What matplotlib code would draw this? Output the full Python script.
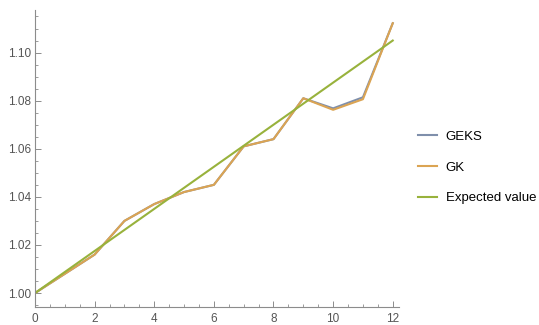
import matplotlib
matplotlib.use("Agg")
from matplotlib import pyplot as plt
from matplotlib.ticker import MultipleLocator, FormatStrFormatter

plt.rcParams['font.family'] = ['Liberation Sans', 'DejaVu Sans']

# values
periods = [0, 1, 2, 3, 4, 5, 6, 7, 8, 9, 10, 11, 12]
geks = [1.000, 1.008, 1.016, 1.030, 1.037, 1.042, 1.045, 1.061, 1.064, 1.081, 1.0768, 1.0814, 1.1122]
gk = [1.000, 1.008, 1.016, 1.030, 1.037, 1.042, 1.045, 1.061, 1.064, 1.081, 1.0762, 1.0806, 1.1122]
expected = [1.000, 1.00875, 1.0175, 1.02625, 1.035, 1.04375, 1.0525,
            1.06125, 1.070, 1.07875, 1.0875, 1.09625, 1.105]

fig = plt.figure(figsize=(5.39, 3.25), dpi=100)
ax = fig.add_axes([35 / 539, 18 / 325, 364 / 539, 297 / 325])

ax.plot(periods, geks, color='#7f8fab', lw=1.5, label='GEKS')
ax.plot(periods, gk, color='#dba453', lw=1.5, label='GK')
ax.plot(periods, expected, color='#98b23c', lw=1.5, label='Expected value')

ax.set_xlim(0, 12.21)
ax.set_ylim(0.9942, 1.1177)
ax.xaxis.set_major_locator(MultipleLocator(2))
ax.xaxis.set_minor_locator(MultipleLocator(0.5))
ax.yaxis.set_major_locator(MultipleLocator(0.02))
ax.yaxis.set_minor_locator(MultipleLocator(0.005))
ax.yaxis.set_major_formatter(FormatStrFormatter('%.2f'))

for side in ['top', 'right']:
    ax.spines[side].set_visible(False)
for side in ['left', 'bottom']:
    ax.spines[side].set_color('#8c8c8c')
    ax.spines[side].set_linewidth(0.8)
ax.tick_params(which='major', direction='in', length=4, width=0.7, color='#8c8c8c',
               labelsize=8.5, labelcolor='#555555', pad=3)
ax.tick_params(axis='x', which='major', pad=4)
ax.tick_params(which='minor', direction='in', length=2.5, width=0.6, color='#8c8c8c')

fig.legend(loc='center left', bbox_to_anchor=(418 / 539, 1 - 167.5 / 325), frameon=False,
           fontsize=9.5, handlelength=1.45, handletextpad=0.65, labelspacing=1.39,
           borderpad=0, borderaxespad=0)

fig.savefig('out.png', dpi=100)
